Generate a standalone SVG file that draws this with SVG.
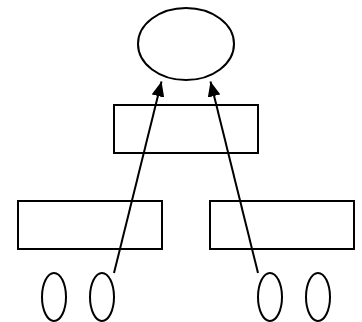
<svg xmlns="http://www.w3.org/2000/svg" width="362" height="322" viewBox="0 0 362 322">
<style>
.n{fill:#fff;stroke:#000;stroke-width:2}
.c{fill:none;stroke:#000;stroke-width:2}
</style>
<defs>
<marker id="ah" viewBox="0 0 15 13" refX="15" refY="6.5" markerWidth="15" markerHeight="13" markerUnits="userSpaceOnUse" orient="auto">
<path d="M0,0 L15,6.5 L0,13 z" fill="#000"/>
</marker>
</defs>
<rect width="362" height="322" fill="#fff"/>
<g id="top"><ellipse class="n" cx="186" cy="44" rx="48" ry="36"/></g>
<g id="mid"><rect class="n" x="114" y="105" width="144" height="48"/></g>
<g id="left"><rect class="n" x="18" y="201" width="144" height="48"/></g>
<g id="right"><rect class="n" x="210" y="201" width="144" height="48"/></g>
<g id="e1"><ellipse class="n" cx="54" cy="297" rx="12" ry="24"/></g>
<g id="e2"><ellipse class="n" cx="102" cy="297" rx="12" ry="24"/></g>
<g id="e3"><ellipse class="n" cx="270" cy="297" rx="12" ry="24"/></g>
<g id="e4"><ellipse class="n" cx="318" cy="297" rx="12" ry="24"/></g>
<g id="connectors">
<line class="c" x1="114" y1="273" x2="161.5" y2="81.5" marker-end="url(#ah)"/>
<line class="c" x1="258" y1="273" x2="210.5" y2="81.5" marker-end="url(#ah)"/>
</g>
</svg>
